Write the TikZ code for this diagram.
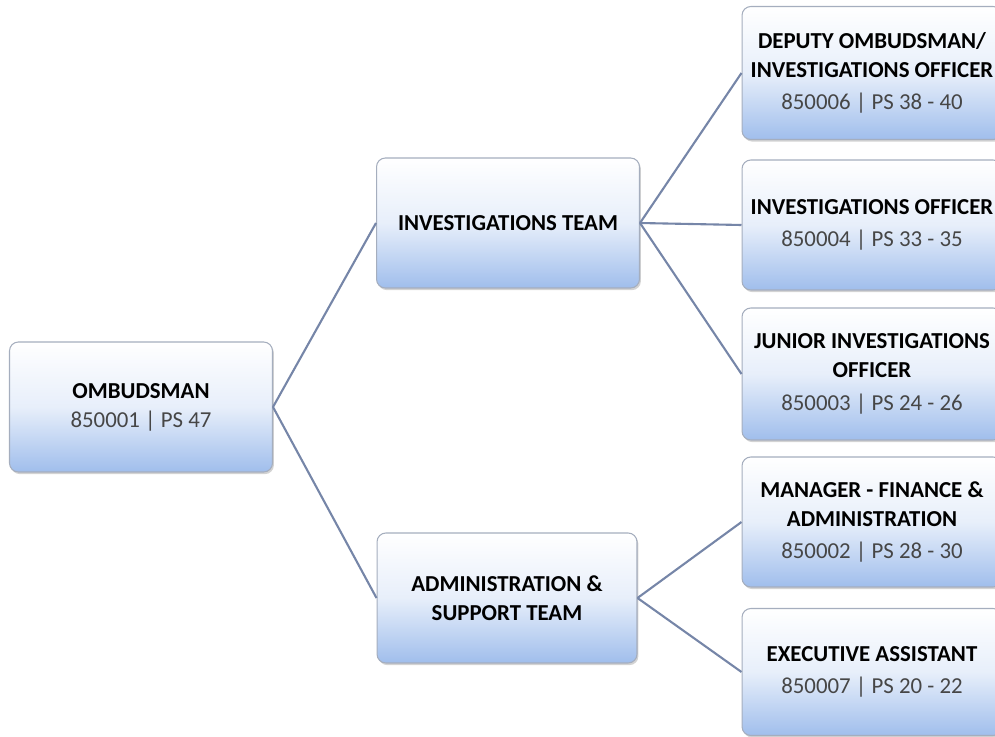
\documentclass[tikz,border=0pt]{standalone}
\usepackage{fontspec}
\setmainfont{Carlito}
\usetikzlibrary{shadows}
\definecolor{boxblue}{RGB}{160,190,236}
\definecolor{boxline}{RGB}{165,174,190}
\definecolor{linkblue}{RGB}{118,134,168}
\definecolor{numgray}{RGB}{70,70,70}
\newcommand{\nm}[1]{{\mdseries\color{numgray}#1}}
\begin{document}
\begin{tikzpicture}[x=0.02cm,y=-0.02cm]
    \tikzstyle{bx} = [rectangle,rounded corners=5pt,draw=boxline,line width=0.6pt,top color=white,bottom color=boxblue,middle color=white!75!boxblue,drop shadow={opacity=0.35,shadow xshift=0.8pt,shadow yshift=-1.2pt},align=center,inner sep=0pt,minimum height=2.6cm,font=\fontsize{13}{16.5}\selectfont\bfseries] %post box
    \tikzstyle{ln} = [-,draw=linkblue,line width=1.2pt] %link
    \useasboundingbox(0,0)rectangle(995,737);
    \node[bx,minimum width=5.26cm](vom)at(141,407){OMBUDSMAN\\\nm{850001 | PS 47}};
    \node[bx,minimum width=5.26cm](vit)at(508,223){INVESTIGATIONS TEAM};
    \node[bx,minimum width=5.2cm](vas)at(507,598){ADMINISTRATION \&\\SUPPORT TEAM};
    \node[bx,minimum width=5.2cm,minimum height=2.66cm](vdp)at(872,73){DEPUTY OMBUDSMAN/\\INVESTIGATIONS OFFICER\\[2pt]\nm{850006 | PS 38 - 40}};
    \node[bx,minimum width=5.2cm](vio)at(872,225){INVESTIGATIONS OFFICER\\[2pt]\nm{850004 | PS 33 - 35}};
    \node[bx,minimum width=5.2cm,minimum height=2.64cm](vjo)at(872,374){JUNIOR INVESTIGATIONS\\OFFICER\\[2pt]\nm{850003 | PS 24 - 26}};
    \node[bx,minimum width=5.2cm](vmf)at(872,522){MANAGER - FINANCE \&\\ADMINISTRATION\\[2pt]\nm{850002 | PS 28 - 30}};
    \node[bx,minimum width=5.2cm,minimum height=2.54cm](vea)at(872,672){EXECUTIVE ASSISTANT\\[2pt]\nm{850007 | PS 20 - 22}};
    \draw[ln](vom.east)--(vit.west);
    \draw[ln](vom.east)--(vas.west);
    \draw[ln](vit.east)--(vdp.west);
    \draw[ln](vit.east)--(vio.west);
    \draw[ln](vit.east)--(vjo.west);
    \draw[ln](vas.east)--(vmf.west);
    \draw[ln](vas.east)--(vea.west);
  \end{tikzpicture}
\end{document}
